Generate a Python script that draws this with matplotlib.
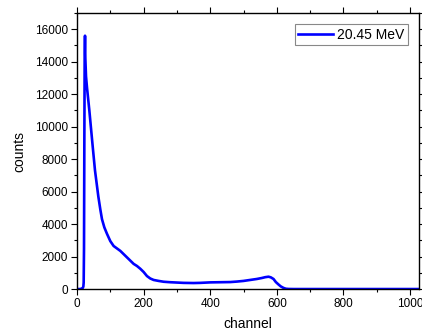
import matplotlib
matplotlib.use("Agg")
import matplotlib.pyplot as plt
from matplotlib.ticker import MultipleLocator

plt.rcParams['font.family'] = ['Liberation Sans', 'DejaVu Sans']

# spectrum (channel, counts)
channel = [0, 10, 17, 19, 20, 21, 22, 23, 24, 25, 27, 30, 34, 37, 42, 47, 54, 59,
           64, 70, 75, 82, 90, 100, 110, 120, 130, 140, 150, 160, 170, 180, 190,
           200, 210, 220, 230, 245, 260, 280, 300, 320, 350, 370, 400, 430, 460,
           480, 500, 520, 540, 555, 565, 575, 582, 590, 597, 605, 612, 620, 627,
           635, 650, 700, 800, 900, 1023]
counts = [0, 0, 60, 150, 400, 2500, 9000, 14500, 15600, 14200, 13100, 12400, 11600,
          11000, 9900, 8800, 7300, 6500, 5700, 4900, 4300, 3800, 3400, 2950, 2650,
          2500, 2350, 2150, 1950, 1750, 1550, 1420, 1250, 1050, 800, 650, 560, 500,
          450, 420, 400, 380, 370, 380, 410, 420, 430, 460, 500, 560, 620, 680, 730,
          760, 720, 620, 430, 280, 160, 70, 20, 5, 0, 0, 0, 0, 0]

series_label = '20.45 MeV'

fig = plt.figure(figsize=(4.22, 3.33), dpi=100)
ax = fig.add_axes([0.1825, 0.132, 0.8105, 0.829])

ax.plot(channel, counts, color='#0000ff', lw=1.9, label=series_label)

ax.set_xlim(0, 1027)
ax.set_ylim(0, 17000)
ax.xaxis.set_major_locator(MultipleLocator(200))
ax.xaxis.set_minor_locator(MultipleLocator(100))
ax.yaxis.set_major_locator(MultipleLocator(2000))
ax.yaxis.set_minor_locator(MultipleLocator(1000))

ax.tick_params(which='both', direction='out', top=True, right=True,
               labeltop=False, labelright=False, labelsize=8.5, width=0.8)
ax.tick_params(which='major', length=4, pad=2.5)
ax.tick_params(which='minor', length=2.5)
for s in ax.spines.values():
    s.set_linewidth(1.0)

ax.set_xlabel('channel', fontsize=10, labelpad=5)
ax.set_ylabel('counts', fontsize=10, labelpad=6)

leg = ax.legend(loc='upper right', fontsize=10, fancybox=False, framealpha=1,
                edgecolor='#888888', handlelength=2.5, handletextpad=0.3,
                borderpad=0.25, borderaxespad=0.8)
leg.get_frame().set_linewidth(0.8)

fig.savefig('out.png', dpi=100)
